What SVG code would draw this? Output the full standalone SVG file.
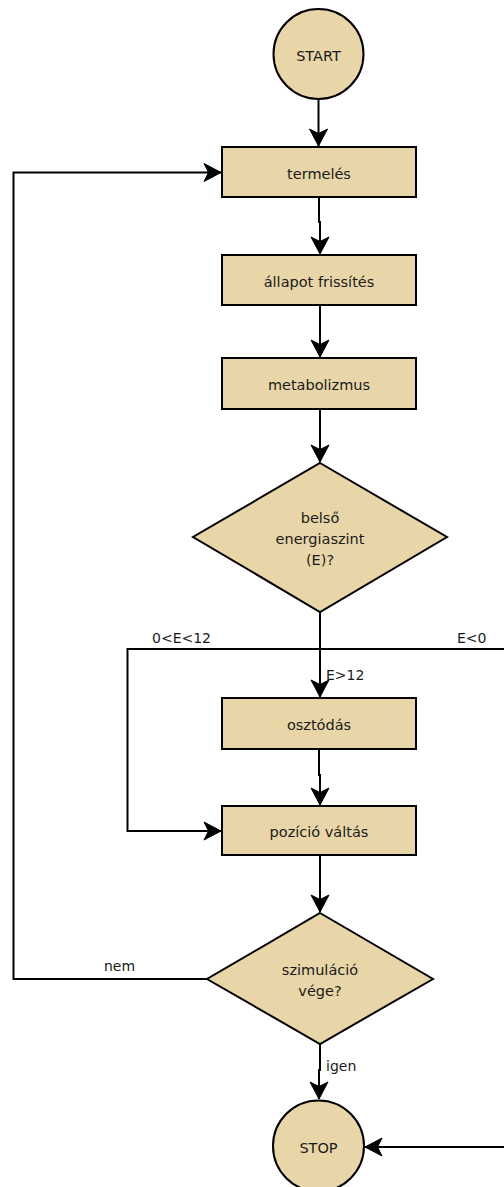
<svg xmlns="http://www.w3.org/2000/svg" width="504" height="1187" viewBox="0 0 504 1187">
<style>
.n{fill:#e9d6a8;stroke:#000;stroke-width:2}
.t{font-family:"DejaVu Sans",Verdana,sans-serif;font-size:14.5px;fill:#1a1a1a;text-anchor:middle}
.l{font-family:"DejaVu Sans",Verdana,sans-serif;font-size:14px;fill:#1a1a1a}
.c{fill:none;stroke:#000;stroke-width:2}
</style>
<defs>
<marker id="a" markerUnits="userSpaceOnUse" markerWidth="20" markerHeight="20" refX="17" refY="9" orient="auto" overflow="visible">
<path d="M17,9 L0,0 L4.5,9 L0,18 Z" fill="#000" stroke="#000" stroke-width="1"/>
</marker>
</defs>
<rect width="504" height="1187" fill="#fff"/>
<g id="connectors">
<path class="c" d="M318.5,99 V146" marker-end="url(#a)"/>
<path class="c" d="M319,197 V222 H320 V254" marker-end="url(#a)"/>
<path class="c" d="M320,305 V357" marker-end="url(#a)"/>
<path class="c" d="M320,409 V462" marker-end="url(#a)"/>
<path class="c" d="M320,612 V697" marker-end="url(#a)"/>
<path class="c" d="M320,649 H127.5 V831 H221" marker-end="url(#a)"/>
<path class="c" d="M320,649 H520 V1147 H365" marker-end="url(#a)"/>
<path class="c" d="M319,749 V775 H320 V805" marker-end="url(#a)"/>
<path class="c" d="M320,855 V912" marker-end="url(#a)"/>
<path class="c" d="M207,979 H13.5 V172.5 H221" marker-end="url(#a)"/>
<path class="c" d="M320,1044 V1070 H319 V1099" marker-end="url(#a)"/>
<text class="l" x="152" y="643">0&lt;E&lt;12</text>
<text class="l" x="457" y="643">E&lt;0</text>
<text class="l" x="326" y="680">E&gt;12</text>
<text class="l" x="104" y="971">nem</text>
<text class="l" x="326" y="1071">igen</text>
</g>
<g id="start"><circle class="n" cx="318.5" cy="54" r="45"/><text class="t" x="318.5" y="61">START</text></g>
<g id="termeles"><rect class="n" x="222" y="147" width="194" height="50"/><text class="t" x="319" y="178.5">termelés</text></g>
<g id="allapot"><rect class="n" x="222" y="255" width="194" height="50"/><text class="t" x="319" y="286.5">állapot frissítés</text></g>
<g id="metabolizmus"><rect class="n" x="222" y="358" width="194" height="51"/><text class="t" x="319" y="390">metabolizmus</text></g>
<g id="energia"><polygon class="n" points="320,463 447,537 320,612 193,537"/><text class="t" x="320" y="523">belső</text><text class="t" x="320" y="544">energiaszint</text><text class="t" x="320" y="565">(E)?</text></g>
<g id="osztodas"><rect class="n" x="222" y="698" width="194" height="51"/><text class="t" x="319" y="730">osztódás</text></g>
<g id="pozicio"><rect class="n" x="222" y="806" width="194" height="49"/><text class="t" x="319" y="837">pozíció váltás</text></g>
<g id="vege"><polygon class="n" points="320,913 433,979 320,1044 207,979"/><text class="t" x="320" y="975">szimuláció</text><text class="t" x="320" y="996">vége?</text></g>
<g id="stop"><circle class="n" cx="318.5" cy="1146" r="45.5"/><text class="t" x="318.5" y="1153">STOP</text></g>
</svg>
